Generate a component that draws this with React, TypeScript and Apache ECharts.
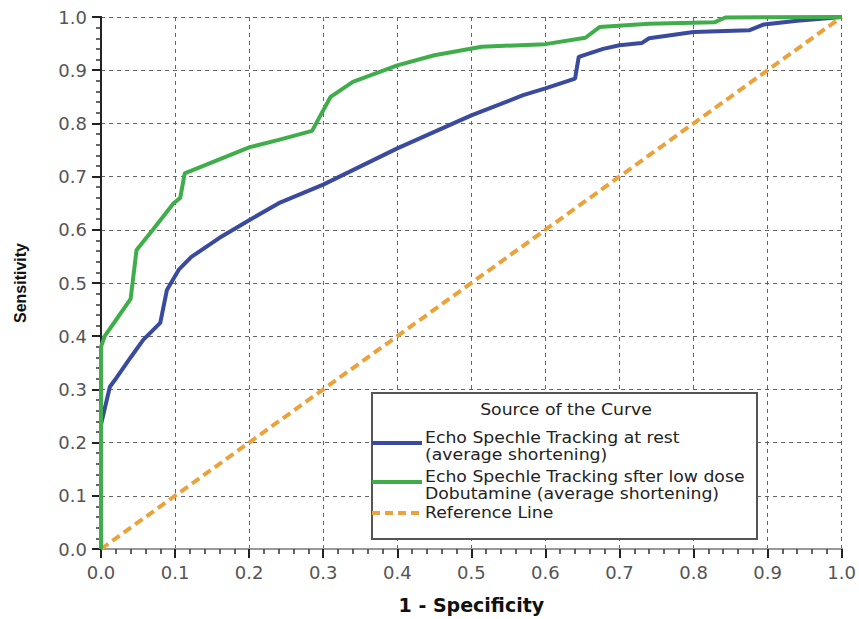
import React, { useEffect, useRef } from "react";
import * as echarts from "echarts";

const restX = [0, 0, 0.012, 0.021, 0.04, 0.057, 0.08, 0.089, 0.105, 0.122, 0.16, 0.2, 0.24, 0.3, 0.4, 0.5, 0.57, 0.6, 0.64, 0.645, 0.678, 0.7, 0.73, 0.74, 0.8, 0.875, 0.895, 0.94, 1];
const restY = [0, 0.234, 0.305, 0.322, 0.36, 0.393, 0.425, 0.487, 0.525, 0.549, 0.585, 0.618, 0.65, 0.685, 0.753, 0.815, 0.853, 0.866, 0.884, 0.925, 0.94, 0.947, 0.951, 0.96, 0.972, 0.975, 0.986, 0.993, 1];

const dobX = [0, 0, 0.005, 0.02, 0.04, 0.048, 0.07, 0.098, 0.107, 0.113, 0.2, 0.24, 0.285, 0.31, 0.34, 0.4, 0.45, 0.514, 0.6, 0.654, 0.673, 0.74, 0.828, 0.843, 1];
const dobY = [0, 0.38, 0.4, 0.43, 0.47, 0.562, 0.6, 0.65, 0.66, 0.706, 0.755, 0.769, 0.786, 0.85, 0.878, 0.909, 0.928, 0.944, 0.949, 0.961, 0.981, 0.9875, 0.99, 0.999, 1];

const refX = [0, 1];
const refY = [0, 1];

const legendTitle = "Source of the Curve";
const legendLines = [
  ["Echo Spechle Tracking at rest", "(average shortening)"],
  ["Echo Spechle Tracking sfter low dose", "Dobutamine (average shortening)"],
  ["Reference Line"],
];

const BLUE = "#3a4a9e";
const GREEN = "#3fae4a";
const ORANGE = "#eba23a";

const zip = (xs: number[], ys: number[]) => xs.map((x, i) => [x, ys[i]]);

export default function App() {
  const ref = useRef<HTMLDivElement>(null);
  useEffect(() => {
    if (!ref.current) return;
    const chart = echarts.init(ref.current, null, { renderer: "svg" });
    const labelFont = { fontFamily: "DejaVu Sans", fontSize: 18, color: "#555" };
    const lx = 372, ly = 393, lw = 385, lh = 146;
    const textStyle = { fontFamily: "DejaVu Sans", fontSize: 16, fill: "#222" };
    const txt = (s: string, y: number) => ({
      type: "text", x: 425, y, scaleX: 1.08,
      style: { ...textStyle, text: s, verticalAlign: "middle" }, z: 101,
    });
    const graphics: any[] = [
      { type: "rect", shape: { x: lx, y: ly, width: lw, height: lh }, style: { fill: "#fff", stroke: "#555", lineWidth: 2 }, z: 100 },
      { type: "text", x: 566, y: 410, scaleX: 1.08, style: { ...textStyle, text: legendTitle, align: "center", verticalAlign: "middle" }, z: 101 },
      { type: "line", shape: { x1: lx, y1: 443, x2: 422, y2: 443 }, style: { stroke: BLUE, lineWidth: 4 }, z: 101 },
      { type: "line", shape: { x1: lx, y1: 482, x2: 422, y2: 482 }, style: { stroke: GREEN, lineWidth: 4 }, z: 101 },
      { type: "line", shape: { x1: lx, y1: 513, x2: 422, y2: 513 }, style: { stroke: ORANGE, lineWidth: 4, lineDash: [8, 5] }, z: 101 },
      txt(legendLines[0][0], 438),
      txt(legendLines[0][1], 455),
      txt(legendLines[1][0], 477),
      txt(legendLines[1][1], 494),
      txt(legendLines[2][0], 513),
    ];
    const splitLine = { show: true, lineStyle: { color: "#666", type: [4, 4], width: 1 } };
    chart.setOption({
      animation: false,
      backgroundColor: "#fff",
      grid: { left: 101, top: 17, right: 16, bottom: 69 },
      xAxis: [
        {
          type: "value", min: 0, max: 1, interval: 0.1,
          name: "1 - Specificity", nameLocation: "middle", nameGap: 46,
          nameTextStyle: { fontFamily: "DejaVu Sans", fontWeight: "bold", fontSize: 19, color: "#111" },
          axisLine: { show: true, onZero: false, lineStyle: { color: "#222", width: 2 } },
          axisTick: { show: true, length: 9, lineStyle: { color: "#222", width: 2 } },
          minorTick: { show: true, splitNumber: 5, length: 5, lineStyle: { color: "#333", width: 1.5 } },
          axisLabel: { ...labelFont, margin: 14, formatter: (v: number) => v.toFixed(1) },
          splitLine,
        },
        {
          type: "value", min: 0, max: 1, position: "top",
          axisLine: { show: true, lineStyle: { color: "#999", width: 2 } },
          axisTick: { show: false }, axisLabel: { show: false }, splitLine: { show: false },
        },
      ],
      yAxis: [
        {
          type: "value", min: 0, max: 1, interval: 0.1,
          name: "Sensitivity", nameLocation: "middle", nameGap: 73, nameRotate: 90,
          nameTextStyle: { fontFamily: "Liberation Sans", fontWeight: "bold", fontSize: 16, color: "#111" },
          axisLine: { show: true, onZero: false, lineStyle: { color: "#222", width: 2 } },
          axisTick: { show: true, length: 9, lineStyle: { color: "#222", width: 2 } },
          minorTick: { show: true, splitNumber: 5, length: 5, lineStyle: { color: "#333", width: 1.5 } },
          axisLabel: { ...labelFont, margin: 14, formatter: (v: number) => v.toFixed(1) },
          splitLine,
        },
        {
          type: "value", min: 0, max: 1, position: "right",
          axisLine: { show: true, lineStyle: { color: "#222", width: 2 } },
          axisTick: { show: false }, axisLabel: { show: false }, splitLine: { show: false },
        },
      ],
      series: [
        { name: "Reference Line", type: "line", data: zip(refX, refY), symbol: "none", lineStyle: { color: ORANGE, width: 4, type: [9, 5] }, z: 3 },
        { name: "Echo Spechle Tracking at rest (average shortening)", type: "line", data: zip(restX, restY), symbol: "none", lineStyle: { color: BLUE, width: 4 }, z: 4 },
        { name: "Echo Spechle Tracking sfter low dose Dobutamine (average shortening)", type: "line", data: zip(dobX, dobY), symbol: "none", lineStyle: { color: GREEN, width: 4 }, z: 5 },
      ],
      graphic: graphics,
    });
    return () => chart.dispose();
  }, []);
  return <div ref={ref} style={{ width: 859, height: 619, position: "absolute", left: 0, top: 0 }} />;
}
